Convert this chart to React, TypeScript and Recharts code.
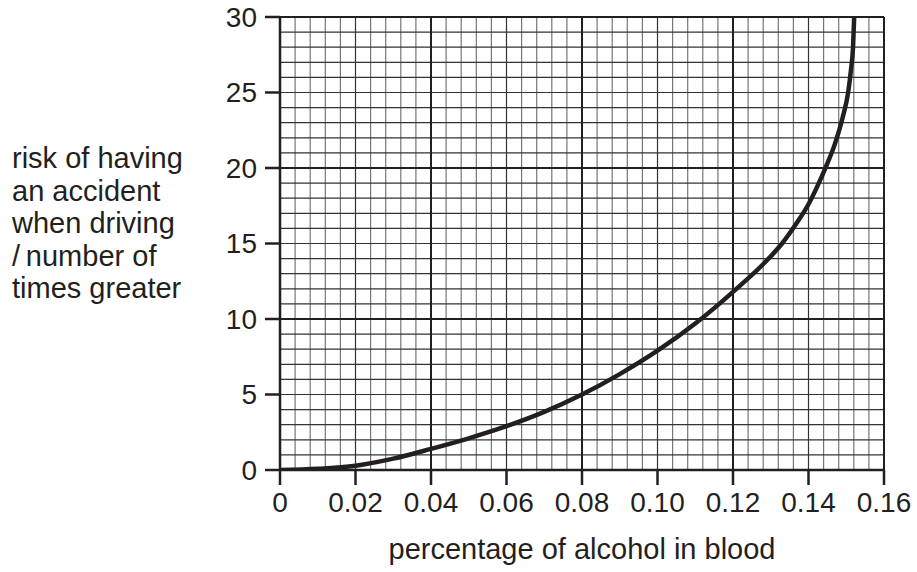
import { LineChart, Line, XAxis, YAxis, ReferenceLine } from 'recharts'

// percentage of alcohol in blood
const alcohol = [0, 0.01, 0.02, 0.03, 0.04, 0.05, 0.06, 0.07, 0.08, 0.09, 0.1, 0.11, 0.12, 0.13, 0.133, 0.137, 0.14, 0.142, 0.145, 0.147, 0.149, 0.1505, 0.1513, 0.1518, 0.1521]
// risk of accident, times greater
const risk = [0, 0.08, 0.28, 0.75, 1.4, 2.1, 2.9, 3.85, 5.0, 6.35, 7.9, 9.7, 11.8, 14.15, 15.0, 16.4, 17.6, 18.6, 20.3, 21.6, 23.3, 25.0, 26.6, 28.0, 30]

const xTicks = [0, 0.02, 0.04, 0.06, 0.08, 0.1, 0.12, 0.14, 0.16]
const yTicks = [0, 5, 10, 15, 20, 25, 30]
const yTitle = ['risk of having', 'an accident', 'when driving', '/\u2009number of', 'times greater']
const xTitle = 'percentage of alcohol in blood'

const INK = '#231f20'
const FONT = '"Liberation Sans", Arial, Helvetica, sans-serif'

const data = alcohol.map((x, i) => ({ x, risk: risk[i] }))

// graph paper squares: 0.004 by 1, heavier every 0.04 / 10
const gridX = Array.from({ length: 41 }, (_, i) => i * 4).filter((k) => k % 40 !== 0)
const gridY = Array.from({ length: 31 }, (_, i) => i).filter((v) => v % 10 !== 0)
const majorX = [0.04, 0.08, 0.12]
const majorY = [10, 20]

export default function App() {
  return (
    <div style={{ position: 'absolute', left: 0, top: 0, width: 917, height: 572, background: '#fff', fontFamily: FONT }}>
      <LineChart width={917} height={572} data={data} margin={{ top: 17, right: 33, left: 0, bottom: 0 }}>
        <XAxis
          dataKey="x"
          type="number"
          domain={[0, 0.16]}
          ticks={xTicks}
          allowDataOverflow
          height={102}
          tickSize={15}
          tickMargin={7}
          tickFormatter={(v: number) => (v === 0 ? '0' : v.toFixed(2))}
          tick={{ fill: INK, fontSize: 28, fontFamily: FONT }}
          axisLine={{ stroke: INK, strokeWidth: 2.5 }}
          tickLine={{ stroke: INK, strokeWidth: 2.5 }}
        />
        <YAxis
          type="number"
          domain={[0, 30]}
          ticks={yTicks}
          allowDataOverflow
          width={280}
          tickSize={15}
          tickMargin={8}
          tick={{ fill: INK, fontSize: 28, fontFamily: FONT }}
          axisLine={{ stroke: INK, strokeWidth: 2.5 }}
          tickLine={{ stroke: INK, strokeWidth: 2.5 }}
        />
        {gridX.map((k) => (
          <ReferenceLine key={'gx' + k} x={k / 1000} stroke={k % 20 === 0 ? '#333' : '#777'} strokeWidth={1.2} />
        ))}
        {gridY.map((v) => (
          <ReferenceLine key={'gy' + v} y={v} stroke="#333" strokeWidth={1.2} />
        ))}
        {majorX.map((v) => (
          <ReferenceLine key={'Mx' + v} x={v} stroke={INK} strokeWidth={2} />
        ))}
        {majorY.map((v) => (
          <ReferenceLine key={'My' + v} y={v} stroke={INK} strokeWidth={2} />
        ))}
        <ReferenceLine x={0.16} stroke={INK} strokeWidth={2} />
        <ReferenceLine y={30} stroke={INK} strokeWidth={2} />
        <Line
          dataKey="risk"
          type="monotone"
          stroke={INK}
          strokeWidth={4.5}
          dot={false}
          isAnimationActive={false}
        />
      </LineChart>
      <div style={{ position: 'absolute', left: 12, top: 142, color: INK, fontSize: 29, lineHeight: '32.5px' }}>
        {yTitle.map((t) => (
          <div key={t} style={{ whiteSpace: 'nowrap' }}>{t}</div>
        ))}
      </div>
      <div
        style={{
          position: 'absolute',
          left: 280,
          width: 604,
          top: 533,
          textAlign: 'center',
          color: INK,
          fontSize: 29,
          lineHeight: '32px',
        }}
      >
        {xTitle}
      </div>
    </div>
  )
}
